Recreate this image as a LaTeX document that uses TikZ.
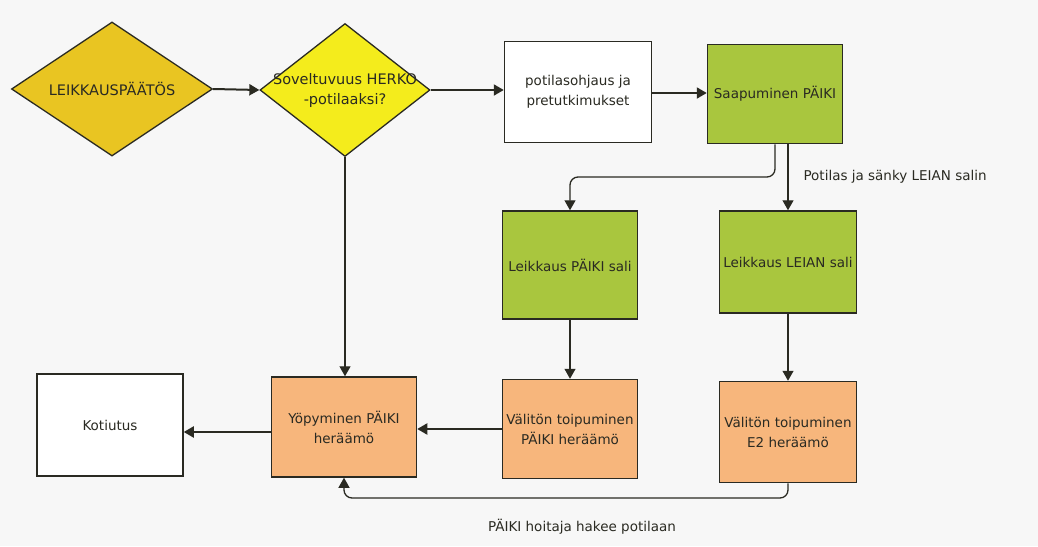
\documentclass[tikz,border=0pt]{standalone}
\usepackage{fontspec}
\setmainfont{DejaVu Sans}
\usetikzlibrary{shapes.geometric,arrows.meta,positioning}
\definecolor{gold}{HTML}{E9C522}
\definecolor{lemon}{HTML}{F4EC1C}
\definecolor{leaf}{HTML}{A9C63E}
\definecolor{peach}{HTML}{F7B67C}
\definecolor{ink}{HTML}{2A2A22}
\tikzset{
  every node/.style={font=\fontsize{13.5}{20}\selectfont, text=ink},
  dia/.style={diamond, draw=ink, line width=1.3pt, inner sep=0pt, align=center},
  dtext/.style={font=\fontsize{14.5}{20}\selectfont, align=center, text=ink},
  box/.style={rectangle, draw=ink, line width=1.5pt, inner sep=2pt, align=center},
  main/.style={draw=ink, line width=2pt, -{Triangle[length=10pt,width=11pt]}},
  thin/.style={draw=ink, line width=1.3pt, -{Triangle[length=10pt,width=11pt]}, rounded corners=8pt},
  lbl/.style={font=\fontsize{13.5}{16}\selectfont}
}
\begin{document}
\begin{tikzpicture}[x=1pt,y=-1pt]
\fill[white!97!black] (0,0) rectangle (1038,546);
\useasboundingbox (0,0) rectangle (1038,546);
\node[dia, fill=gold, minimum width=201pt, minimum height=134pt,
  label={[dtext]center:LEIKKAUSPÄÄTÖS}] (d1) at (112,89) {};
\node[dia, fill=lemon, minimum width=170pt, minimum height=133pt,
  label={[dtext]center:Soveltuvuus HERKO\\-potilaaksi?}] (d2) at (345,90) {};
\node[box, fill=white, minimum width=147pt, minimum height=101pt] (po) at (578,92) {potilasohjaus ja\\pretutkimukset};
\node[box, fill=leaf, minimum width=135pt, minimum height=99pt] (sa) at (775,94) {Saapuminen PÄIKI};
\node[box, fill=leaf, minimum width=135pt, minimum height=108pt] (lp) at (570,265) {Leikkaus PÄIKI sali};
\node[box, fill=leaf, minimum width=137pt, minimum height=102pt] (ll) at (788,262) {Leikkaus LEIAN sali};
\node[box, fill=peach, minimum width=135pt, minimum height=99pt] (vp) at (570,429) {Välitön toipuminen\\PÄIKI heräämö};
\node[box, fill=peach, minimum width=137pt, minimum height=101pt] (ve) at (788,432) {Välitön toipuminen\\E2 heräämö};
\node[box, fill=peach, minimum width=145pt, minimum height=100pt] (yo) at (344,427) {Yöpyminen PÄIKI\\heräämö};
\node[box, fill=white, minimum width=146pt, minimum height=102pt] (ko) at (110,425) {Kotiutus};
\coordinate (c1) at (775,177);
\coordinate (c2) at (570,177);
\coordinate (c3) at (788,498);
\coordinate (c4) at (344,498);
\draw[main] (d1.east) -- (d2.west);
\draw[main] (d2.east) -- (d2.east -| po.west);
\draw[main] (po.east |- 0,93) -- (sa.west |- 0,93);
\draw[thin] (sa.south -| c1) -- (c1) -- (c2) -- (lp.north);
\draw[thin] (sa.south -| ll.north) -- (ll.north);
\draw[thin] (d2.south) -- (d2.south |- yo.north);
\draw[thin] (lp.south) -- (vp.north);
\draw[thin] (ll.south) -- (ve.north);
\draw[main] (vp.west) -- (vp.west -| yo.east);
\draw[main] (yo.west |- 0,432) -- (ko.east |- 0,432);
\draw[thin] (ve.south -| c3) -- (c3) -- (c4) -- (yo.south);
\node[lbl, anchor=west] (t1) at (800,177) {Potilas ja sänky LEIAN salin};
\node[lbl] (t2) at (582,527) {PÄIKI hoitaja hakee potilaan};
\end{tikzpicture}
\end{document}
